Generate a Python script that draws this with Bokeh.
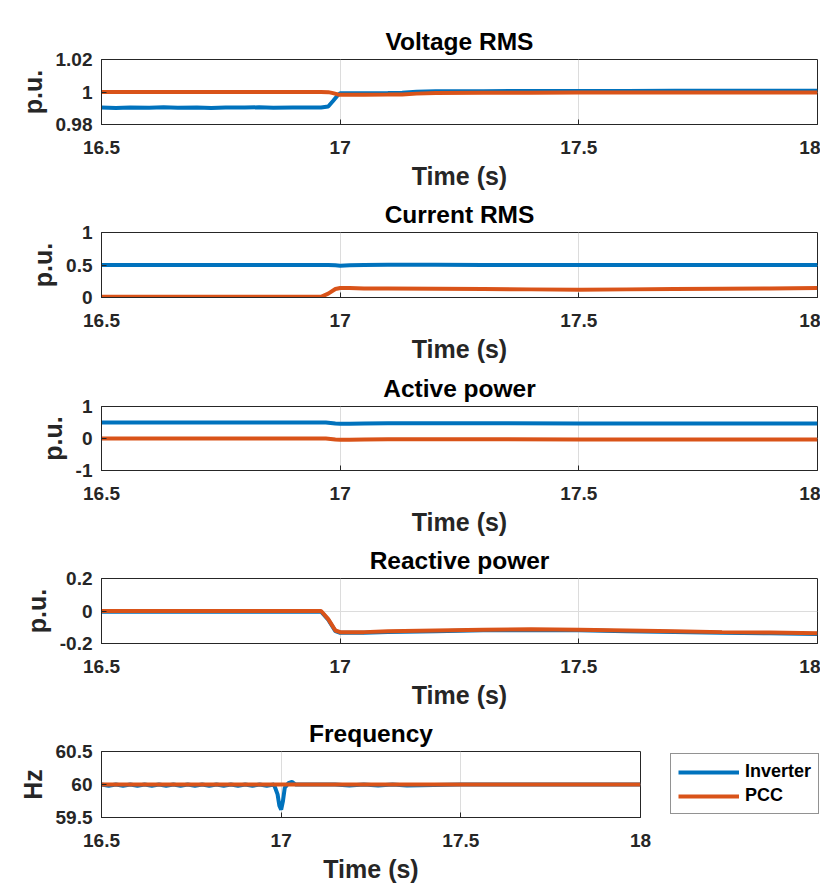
from bokeh.plotting import figure
from bokeh.layouts import column
from bokeh.models import FixedTicker, Legend, LegendItem, Range1d
from bokeh.embed import file_html
from bokeh.resources import INLINE

# ---------------- data ----------------
x_ticks = [16.5, 17.0, 17.5, 18.0]
x_tick_labels = ["16.5", "17", "17.5", "18"]

# Voltage RMS
time_v = [16.50, 16.53, 16.56, 16.60, 16.63, 16.66, 16.70, 16.73, 16.76, 16.80,
          16.83, 16.86, 16.90, 16.93, 16.96, 16.975, 16.985, 16.995, 17.00, 17.05,
          17.10, 17.13, 17.16, 17.20, 17.30, 17.40, 17.50, 17.60, 17.70, 17.80,
          17.90, 18.00]
inv_v = [0.9905, 0.9902, 0.9905, 0.9903, 0.9906, 0.9903, 0.9905, 0.9902, 0.9905, 0.9904,
         0.9906, 0.9903, 0.9905, 0.9904, 0.9905, 0.9911, 0.9945, 0.9980, 0.9992, 0.9993,
         0.9994, 0.9996, 1.0002, 1.0004, 1.0005, 1.0006, 1.0006, 1.0006, 1.0007, 1.0007,
         1.0007, 1.0007]
pcc_v = [1.0000, 1.0000, 1.0000, 1.0000, 1.0000, 1.0000, 1.0000, 1.0000, 1.0000, 1.0000,
         1.0000, 1.0000, 1.0000, 1.0000, 1.0000, 0.9999, 0.9993, 0.9985, 0.9983, 0.9983,
         0.9984, 0.9985, 0.9990, 0.9994, 0.9995, 0.9996, 0.9997, 0.9997, 0.9997, 0.9997,
         0.9997, 0.9997]
v_ticks = [0.98, 1.0, 1.02]
v_tick_labels = ["0.98", "1", "1.02"]

# Current RMS
time_i = [16.50, 16.70, 16.90, 16.96, 16.975, 16.99, 17.00, 17.02, 17.05, 17.10,
          17.20, 17.30, 17.40, 17.50, 17.60, 17.70, 17.80, 17.90, 18.00]
inv_i = [0.50, 0.50, 0.50, 0.50, 0.50, 0.495, 0.49, 0.495, 0.50, 0.505,
         0.505, 0.50, 0.50, 0.50, 0.50, 0.50, 0.50, 0.50, 0.50]
pcc_i = [0.01, 0.01, 0.01, 0.01, 0.06, 0.13, 0.145, 0.145, 0.14, 0.14,
         0.135, 0.13, 0.125, 0.12, 0.125, 0.13, 0.135, 0.14, 0.145]
i_ticks = [0.0, 0.5, 1.0]
i_tick_labels = ["0", "0.5", "1"]

# Active power
time_p = [16.50, 16.70, 16.90, 16.97, 16.99, 17.00, 17.02, 17.05, 17.10, 17.30,
          17.50, 17.70, 17.90, 18.00]
inv_p = [0.50, 0.50, 0.50, 0.50, 0.47, 0.46, 0.46, 0.47, 0.48, 0.48,
         0.47, 0.47, 0.47, 0.47]
pcc_p = [0.0, 0.0, 0.0, 0.0, -0.03, -0.04, -0.04, -0.03, -0.02, -0.02,
         -0.03, -0.03, -0.03, -0.03]
p_ticks = [-1.0, 0.0, 1.0]
p_tick_labels = ["-1", "0", "1"]

# Reactive power
time_q = [16.50, 16.70, 16.90, 16.96, 16.975, 16.99, 17.00, 17.05, 17.10, 17.20,
          17.30, 17.40, 17.50, 17.60, 17.70, 17.80, 17.90, 18.00]
pcc_q = [0.0, 0.0, 0.0, 0.0, -0.05, -0.12, -0.13, -0.13, -0.125, -0.12,
         -0.115, -0.113, -0.115, -0.12, -0.125, -0.13, -0.133, -0.137]
inv_q = [-0.004, -0.004, -0.004, -0.004, -0.054, -0.124, -0.134, -0.134, -0.129, -0.124,
         -0.119, -0.117, -0.119, -0.124, -0.129, -0.134, -0.137, -0.141]
q_ticks = [-0.2, 0.0, 0.2]
q_tick_labels = ["-0.2", "0", "0.2"]

# Frequency
time_f = [16.50, 16.52, 16.54, 16.56, 16.58, 16.60, 16.62, 16.64, 16.66, 16.68,
          16.70, 16.72, 16.74, 16.76, 16.78, 16.80, 16.82, 16.84, 16.86, 16.88,
          16.90, 16.92, 16.94, 16.96, 16.98, 16.99, 16.995, 17.00, 17.005, 17.01,
          17.02, 17.03, 17.04, 17.06, 17.15, 17.19, 17.23, 17.27, 17.31, 17.35,
          17.50, 17.70, 17.90, 18.00]
inv_f = [60.00, 59.98, 60.00, 59.98, 60.00, 59.98, 60.00, 59.98, 60.00, 59.98,
         60.00, 59.98, 60.00, 59.98, 60.00, 59.98, 60.00, 59.98, 60.00, 59.98,
         60.00, 59.98, 60.00, 59.98, 60.00, 59.85, 59.68, 59.62, 59.75, 59.95,
         60.02, 60.04, 60.00, 60.00, 60.00, 59.985, 60.00, 59.985, 60.00, 59.985,
         60.00, 60.00, 60.00, 60.00]
time_f_pcc = [16.50, 17.00, 17.50, 18.00]
pcc_f = [60.0, 60.0, 60.0, 60.0]
f_ticks = [59.5, 60.0, 60.5]
f_tick_labels = ["59.5", "60", "60.5"]

series_names = ["Inverter", "PCC"]

# ---------------- style ----------------
BLUE = "#0072BD"
ORANGE = "#D95319"
FONT = "Liberation Sans"
AX = "#262626"
LW = 4


def make_fig(title, ylabel, yr, yticks, ylabels, frame_w, frame_h, top, bottom, right):
    p = figure(frame_width=frame_w, frame_height=frame_h, x_range=Range1d(16.5, 18.0),
               y_range=Range1d(*yr), output_backend="svg", toolbar_location=None,
               min_border_left=101, min_border_right=right, min_border_top=top,
               min_border_bottom=bottom, title=title)
    p.title.align = "center"
    p.title.text_font = FONT
    p.title.text_font_size = "24.5px"
    p.title.text_font_style = "bold"
    p.title.text_color = "black"
    p.title.standoff = 10
    p.outline_line_color = AX
    p.outline_line_alpha = 1.0
    p.outline_line_width = 1
    p.background_fill_color = "white"
    p.border_fill_color = "white"

    xa = p.xaxis[0]
    xa.ticker = FixedTicker(ticks=x_ticks)
    xa.major_label_overrides = dict(zip(x_ticks, x_tick_labels))
    xa.axis_label = "Time (s)"
    ya = p.yaxis[0]
    ya.ticker = FixedTicker(ticks=yticks)
    ya.major_label_overrides = dict(zip(yticks, ylabels))
    ya.axis_label = ylabel
    for ax in (xa, ya):
        ax.minor_tick_line_color = None
        ax.major_tick_in = 5
        ax.major_tick_out = 0
        ax.major_tick_line_color = AX
        ax.axis_line_color = AX
        ax.major_label_text_font = FONT
        ax.major_label_text_font_size = "19px"
        ax.major_label_text_font_style = "bold"
        ax.major_label_text_color = AX
        ax.axis_label_text_font = FONT
        ax.axis_label_text_font_size = "25px"
        ax.axis_label_text_font_style = "bold"
        ax.axis_label_text_color = AX
        ax.major_label_standoff = 9
        ax.axis_label_standoff = 6
    xa.major_label_standoff = 16
    xa.axis_label_standoff = 5

    p.xgrid.ticker = FixedTicker(ticks=x_ticks)
    p.ygrid.ticker = FixedTicker(ticks=yticks)
    for g in (p.xgrid, p.ygrid):
        g.grid_line_color = "#dcdcdc"
        g.grid_line_width = 1
    return p


FW = 716
p1 = make_fig("Voltage RMS", "p.u.", (0.98, 1.02), v_ticks, v_tick_labels, FW, 65, 59, 68, 3)
p1.line(time_v, inv_v, line_color=BLUE, line_width=LW)
p1.line(time_v, pcc_v, line_color=ORANGE, line_width=LW)

p2 = make_fig("Current RMS", "p.u.", (0.0, 1.0), i_ticks, i_tick_labels, FW, 65, 40, 68, 3)
p2.line(time_i, inv_i, line_color=BLUE, line_width=LW)
p2.line(time_i, pcc_i, line_color=ORANGE, line_width=LW)

p3 = make_fig("Active power", "p.u.", (-1.0, 1.0), p_ticks, p_tick_labels, FW, 64, 41, 68, 3)
p3.line(time_p, inv_p, line_color=BLUE, line_width=LW)
p3.line(time_p, pcc_p, line_color=ORANGE, line_width=LW)

p4 = make_fig("Reactive power", "p.u.", (-0.2, 0.2), q_ticks, q_tick_labels, FW, 65, 40, 68, 3)
p4.line(time_q, inv_q, line_color=BLUE, line_width=LW)
p4.line(time_q, pcc_q, line_color=ORANGE, line_width=LW)

p5 = make_fig("Frequency", "Hz", (59.5, 60.5), f_ticks, f_tick_labels, 539, 66, 40, 68, 179)
rb = p5.line(time_f, inv_f, line_color=BLUE, line_width=LW)
ro = p5.line(time_f_pcc, pcc_f, line_color=ORANGE, line_width=LW)

legend = Legend(items=[LegendItem(label=series_names[0], renderers=[rb]),
                       LegendItem(label=series_names[1], renderers=[ro])],
                location=(30, 3), orientation="vertical")
legend.margin = 0
legend.padding = 7
legend.spacing = 3
legend.glyph_width = 61
legend.glyph_height = 20
legend.label_height = 20
legend.label_standoff = 6
legend.label_text_font = FONT
legend.label_text_font_size = "18px"
legend.label_text_font_style = "bold"
legend.label_text_color = "black"
legend.border_line_color = AX
legend.border_line_width = 1
legend.background_fill_color = "white"
legend.background_fill_alpha = 1.0
p5.add_layout(legend, "right")

layout = column(p1, p2, p3, p4, p5, spacing=0)

with open("out.html", "w") as f:
    f.write(file_html(layout, INLINE))
